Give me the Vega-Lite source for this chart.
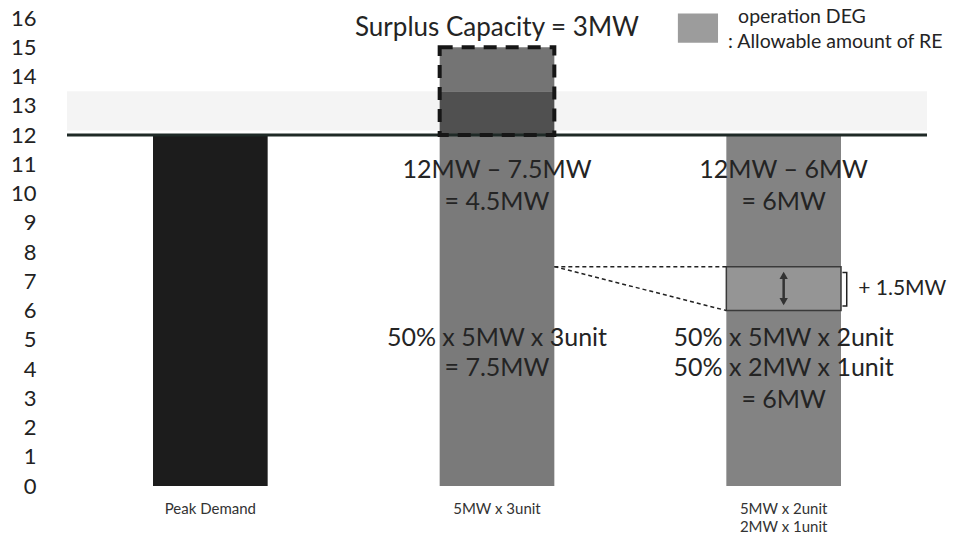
{
  "$schema": "https://vega.github.io/schema/vega-lite/v6.json",
  "width": 860,
  "height": 468,
  "autosize": {"type": "none"},
  "padding": {"left": 67, "top": 18, "right": 41, "bottom": 58},
  "background": "white",
  "config": {
    "view": {"stroke": null},
    "font": "Lato",
    "text": {"font": "Lato"},
    "axis": {"labelFont": "Lato", "grid": false, "ticks": false, "domain": false},
    "axisY": {"labelOverlap": false, "labelFontSize": 22, "labelColor": "#222222", "labelPadding": 31}
  },
  "datasets": {
    "levels": [
      {"what": "haze", "lo": 12.15, "hi": 13.5},
      {"what": "peak", "lo": 12, "hi": 12}
    ],
    "bars": [
      {"cat": "Peak Demand", "lo": 0, "hi": 12, "part": "demand"},
      {"cat": "5MW x 3unit", "lo": 0, "hi": 12, "part": "re3unit"},
      {"cat": "5MW x 3unit", "lo": 12, "hi": 13.5, "part": "surplusLow"},
      {"cat": "5MW x 3unit", "lo": 13.5, "hi": 15, "part": "surplusHigh"},
      {"cat": "5MW x 2unit\n2MW x 1unit", "lo": 0, "hi": 12, "part": "re2unit"},
      {"cat": "5MW x 2unit\n2MW x 1unit", "lo": 6, "hi": 7.5, "part": "gain"}
    ],
    "outline": [
      {"cat": "5MW x 3unit", "lo": 12, "hi": 15}
    ],
    "arrow": [
      {"cat": "5MW x 2unit\n2MW x 1unit", "lo": 6.25, "hi": 7.25}
    ],
    "heads": [
      {"cat": "5MW x 2unit\n2MW x 1unit", "v": 7.2, "dir": "up"},
      {"cat": "5MW x 2unit\n2MW x 1unit", "v": 6.3, "dir": "down"}
    ],
    "notes": [
      {"cat": "5MW x 3unit", "v": 15.66, "text": "Surplus Capacity = 3MW", "kind": "head"},
      {"cat": "5MW x 3unit", "v": 10.8, "text": "12MW – 7.5MW", "kind": "body"},
      {"cat": "5MW x 3unit", "v": 9.7, "text": "= 4.5MW", "kind": "body"},
      {"cat": "5MW x 3unit", "v": 5.06, "text": "50% x 5MW x 3unit", "kind": "body"},
      {"cat": "5MW x 3unit", "v": 4.03, "text": "= 7.5MW", "kind": "body"},
      {"cat": "5MW x 2unit\n2MW x 1unit", "v": 10.8, "text": "12MW – 6MW", "kind": "body"},
      {"cat": "5MW x 2unit\n2MW x 1unit", "v": 9.7, "text": "= 6MW", "kind": "body"},
      {"cat": "5MW x 2unit\n2MW x 1unit", "v": 5.06, "text": "50% x 5MW x 2unit", "kind": "body"},
      {"cat": "5MW x 2unit\n2MW x 1unit", "v": 4.03, "text": "50% x 2MW x 1unit", "kind": "body"},
      {"cat": "5MW x 2unit\n2MW x 1unit", "v": 2.94, "text": "= 6MW", "kind": "body"}
    ],
    "connectors": [
      {"seg": "level", "u": 1.7, "v": 7.5, "o": 1},
      {"seg": "level", "u": 2.3, "v": 7.5, "o": 2},
      {"seg": "slope", "u": 1.7, "v": 7.5, "o": 1},
      {"seg": "slope", "u": 2.3, "v": 6, "o": 2},
      {"seg": "bracket", "u": 2.705, "v": 7.3, "o": 1},
      {"seg": "bracket", "u": 2.72, "v": 7.3, "o": 2},
      {"seg": "bracket", "u": 2.72, "v": 6.15, "o": 3},
      {"seg": "bracket", "u": 2.705, "v": 6.15, "o": 4}
    ],
    "legendBox": [
      {"u": 2.131, "u2": 2.271, "v": 15.15, "v2": 16.15}
    ],
    "sideNotes": [
      {"u": 2.76, "v": 6.72, "text": "+ 1.5MW", "kind": "note"},
      {"u": 2.341, "v": 16.02, "text": "operation DEG", "kind": "legend"},
      {"u": 2.306, "v": 15.17, "text": ": Allowable amount of RE", "kind": "legend"}
    ]
  },
  "layer": [
    {
      "layer": [
        {
          "data": {"name": "levels"},
          "transform": [{"filter": "datum.what == 'haze'"}],
          "mark": {"type": "rect", "color": "#f4f4f4"},
          "encoding": {
            "y": {"field": "lo", "type": "quantitative", "scale": {"domain": [0, 16], "nice": false}, "axis": {"title": null, "values": [0,1,2,3,4,5,6,7,8,9,10,11,12,13,14,15,16], "labelOverlap": false}},
            "y2": {"field": "hi"}
          }
        },
        {
          "data": {"name": "bars"},
          "mark": {"type": "bar"},
          "encoding": {
            "x": {
              "field": "cat", "type": "nominal",
              "scale": {"domain": ["Peak Demand", "5MW x 3unit", "5MW x 2unit\n2MW x 1unit"], "paddingInner": 0.6, "paddingOuter": 0.3},
              "axis": {"title": null, "labelAngle": 0, "labelFontSize": 15, "labelColor": "#333333", "labelPadding": 15, "labelLineHeight": 18, "labelExpr": "split(datum.value, '\\n')"}
            },
            "y": {"field": "lo", "type": "quantitative", "scale": {"domain": [0, 16], "nice": false}, "axis": {"title": null, "values": [0,1,2,3,4,5,6,7,8,9,10,11,12,13,14,15,16], "labelOverlap": false}},
            "y2": {"field": "hi"},
            "color": {
              "field": "part", "type": "nominal", "legend": null,
              "scale": {"domain": ["demand", "re3unit", "surplusLow", "surplusHigh", "re2unit", "gain"], "range": ["#1c1c1c", "#7a7a7a", "#505050", "#747474", "#838383", "#959595"]}
            }
          }
        },
        {
          "data": {"name": "levels"},
          "transform": [{"filter": "datum.what == 'peak'"}],
          "mark": {"type": "rule", "color": "#1f2a27", "strokeWidth": 3},
          "encoding": {"y": {"field": "lo", "type": "quantitative", "axis": {"title": null, "values": [0,1,2,3,4,5,6,7,8,9,10,11,12,13,14,15,16], "labelOverlap": false}}}
        },
        {
          "data": {"name": "bars"},
          "transform": [{"filter": "datum.part == 'gain'"}],
          "mark": {"type": "bar", "fill": null, "fillOpacity": 0, "stroke": "#3a3a3a", "strokeWidth": 1.5},
          "encoding": {
            "x": {"field": "cat", "type": "nominal", "title": null},
            "y": {"field": "lo", "type": "quantitative", "axis": {"title": null, "values": [0,1,2,3,4,5,6,7,8,9,10,11,12,13,14,15,16], "labelOverlap": false}},
            "y2": {"field": "hi"}
          }
        },
        {
          "data": {"name": "outline"},
          "mark": {"type": "bar", "fill": null, "fillOpacity": 0, "stroke": "#161616", "strokeWidth": 4, "strokeDash": [13, 9]},
          "encoding": {
            "x": {"field": "cat", "type": "nominal", "title": null},
            "y": {"field": "lo", "type": "quantitative", "axis": {"title": null, "values": [0,1,2,3,4,5,6,7,8,9,10,11,12,13,14,15,16], "labelOverlap": false}},
            "y2": {"field": "hi"}
          }
        },
        {
          "data": {"name": "arrow"},
          "mark": {"type": "rule", "color": "#333333", "strokeWidth": 2.5},
          "encoding": {
            "x": {"field": "cat", "type": "nominal", "title": null},
            "y": {"field": "lo", "type": "quantitative", "axis": {"title": null, "values": [0,1,2,3,4,5,6,7,8,9,10,11,12,13,14,15,16], "labelOverlap": false}},
            "y2": {"field": "hi"}
          }
        },
        {
          "data": {"name": "heads"},
          "mark": {"type": "point", "filled": true, "size": 70, "color": "#333333", "opacity": 1},
          "encoding": {
            "x": {"field": "cat", "type": "nominal", "title": null},
            "y": {"field": "v", "type": "quantitative", "axis": {"title": null, "values": [0,1,2,3,4,5,6,7,8,9,10,11,12,13,14,15,16], "labelOverlap": false}},
            "shape": {"field": "dir", "type": "nominal", "legend": null, "scale": {"domain": ["up", "down"], "range": ["triangle-up", "triangle-down"]}}
          }
        },
        {
          "data": {"name": "notes"},
          "transform": [{"filter": "datum.kind == 'head'"}],
          "mark": {"type": "text", "color": "#242424", "align": "center", "baseline": "middle", "fontSize": 26},
          "encoding": {
            "x": {"field": "cat", "type": "nominal", "title": null},
            "y": {"field": "v", "type": "quantitative", "axis": {"title": null, "values": [0,1,2,3,4,5,6,7,8,9,10,11,12,13,14,15,16], "labelOverlap": false}},
            "text": {"field": "text"}
          }
        },
        {
          "data": {"name": "notes"},
          "transform": [{"filter": "datum.kind == 'body'"}],
          "mark": {"type": "text", "color": "#242424", "align": "center", "baseline": "middle", "fontSize": 25},
          "encoding": {
            "x": {"field": "cat", "type": "nominal", "title": null},
            "y": {"field": "v", "type": "quantitative", "axis": {"title": null, "values": [0,1,2,3,4,5,6,7,8,9,10,11,12,13,14,15,16], "labelOverlap": false}},
            "text": {"field": "text"}
          }
        }
      ]
    },
    {
      "layer": [
        {
          "data": {"name": "connectors"},
          "mark": {"type": "line", "color": "#222222", "strokeWidth": 1.5},
          "encoding": {
            "x": {"field": "u", "type": "quantitative", "scale": {"domain": [0, 3], "nice": false, "zero": false}, "axis": null},
            "y": {"field": "v", "type": "quantitative", "axis": {"title": null, "values": [0,1,2,3,4,5,6,7,8,9,10,11,12,13,14,15,16], "labelOverlap": false}},
            "detail": {"field": "seg"},
            "order": {"field": "o"},
            "strokeDash": {"field": "seg", "type": "nominal", "legend": null, "scale": {"domain": ["level", "slope", "bracket"], "range": [[4, 3], [4, 3], [1, 0]]}}
          }
        },
        {
          "data": {"name": "legendBox"},
          "mark": {"type": "rect", "color": "#9c9c9c"},
          "encoding": {
            "x": {"field": "u", "type": "quantitative", "scale": {"domain": [0, 3], "nice": false, "zero": false}, "axis": null},
            "x2": {"field": "u2"},
            "y": {"field": "v", "type": "quantitative", "axis": {"title": null, "values": [0,1,2,3,4,5,6,7,8,9,10,11,12,13,14,15,16], "labelOverlap": false}},
            "y2": {"field": "v2"}
          }
        },
        {
          "data": {"name": "sideNotes"},
          "transform": [{"filter": "datum.kind == 'note'"}],
          "mark": {"type": "text", "align": "left", "baseline": "middle", "color": "#242424", "fontSize": 21},
          "encoding": {
            "x": {"field": "u", "type": "quantitative", "scale": {"domain": [0, 3], "nice": false, "zero": false}, "axis": null},
            "y": {"field": "v", "type": "quantitative", "axis": {"title": null, "values": [0,1,2,3,4,5,6,7,8,9,10,11,12,13,14,15,16], "labelOverlap": false}},
            "text": {"field": "text"}
          }
        },
        {
          "data": {"name": "sideNotes"},
          "transform": [{"filter": "datum.kind == 'legend'"}],
          "mark": {"type": "text", "align": "left", "baseline": "middle", "color": "#242424", "fontSize": 19.5},
          "encoding": {
            "x": {"field": "u", "type": "quantitative", "scale": {"domain": [0, 3], "nice": false, "zero": false}, "axis": null},
            "y": {"field": "v", "type": "quantitative", "axis": {"title": null, "values": [0,1,2,3,4,5,6,7,8,9,10,11,12,13,14,15,16], "labelOverlap": false}},
            "text": {"field": "text"}
          }
        }
      ]
    }
  ],
  "resolve": {"scale": {"x": "independent"}}
}
